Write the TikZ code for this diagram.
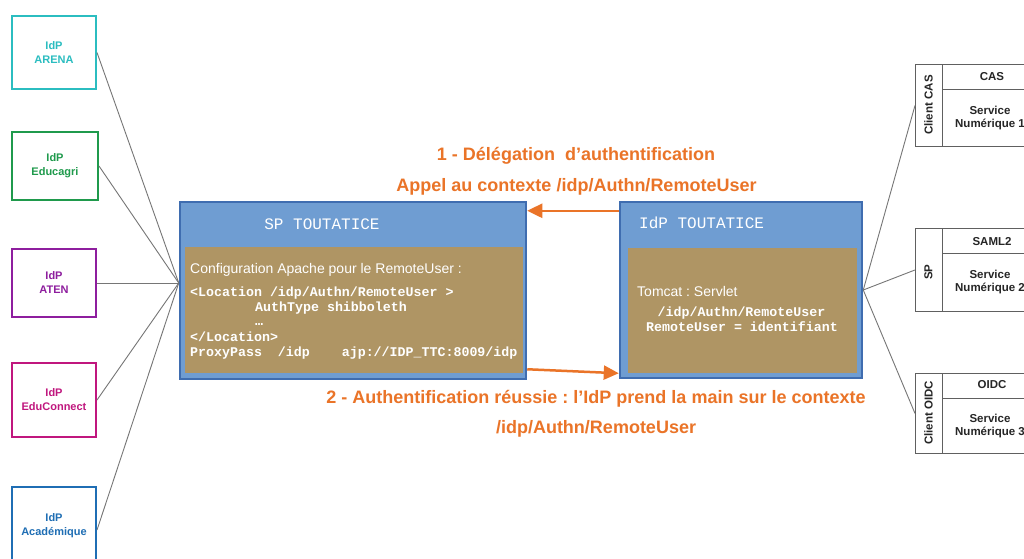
\documentclass[tikz,border=0pt]{standalone}
\usepackage{fontspec}
\setmainfont{Liberation Sans}
\newfontfamily\monof{Liberation Mono}
\usetikzlibrary{arrows.meta,calc}
\definecolor{hdrblue}{HTML}{6F9DD2}
\definecolor{bordblue}{HTML}{3F6DB0}
\definecolor{brownbox}{HTML}{AF9564}
\definecolor{orangeT}{HTML}{EA7428}
\definecolor{cArena}{HTML}{2BBDC0}
\definecolor{cEduc}{HTML}{1F9A4C}
\definecolor{cAten}{HTML}{8E1E9E}
\definecolor{cEduCo}{HTML}{C0177E}
\definecolor{cAcad}{HTML}{1F6EB4}
\definecolor{linegray}{HTML}{767676}
\definecolor{rboxgray}{HTML}{606060}
\frenchspacing
\begin{document}
\begin{tikzpicture}[x=1pt,y=-1pt,
  idpbox/.style={draw=#1, line width=2pt, minimum width=84pt, inner sep=0pt,
    text=#1, font=\fontsize{11}{14}\selectfont\bfseries, align=center},
  gline/.style={draw=linegray, line width=0.9pt},
  outerbox/.style={draw=bordblue, fill=hdrblue, line width=2.5pt, inner sep=0pt},
  innerbox/.style={fill=brownbox, inner sep=0pt},
  titletext/.style={text=white, font=\monof\fontsize{16}{18}\selectfont, inner sep=0pt},
  sanstext/.style={text=white, font=\fontsize{14}{16}\selectfont, inner sep=0pt, anchor=base west},
  codetext/.style={text=white, font=\monof\bfseries\fontsize{13.3}{15}\selectfont, inner sep=0pt, anchor=base west},
  orangetext/.style={text=orangeT, font=\bfseries\fontsize{18}{20}\selectfont, inner sep=0pt, anchor=base},
  arr/.style={draw=orangeT, line width=2.5pt, -{Triangle[length=15pt,width=14pt]}},
  rbox/.style={draw=rboxgray, line width=0.9pt, minimum width=125pt, minimum height=82pt, inner sep=0pt, anchor=north west},
  rtext/.style={font=\bfseries\fontsize{11.5}{13.5}\selectfont, text=black!85, inner sep=0pt, align=center}
]
\fill[white] (0,0) rectangle (1024,558);
\useasboundingbox (0,0) rectangle (1024,558);

% left IdP boxes
\node[idpbox=cArena, minimum height=73pt] (arena) at (54,52.5) {IdP\\ARENA};
\node[idpbox=cEduc, minimum width=86pt, minimum height=68pt] (educ) at (55,166) {IdP\\Educagri};
\node[idpbox=cAten, minimum height=68pt] (aten) at (54,283) {IdP\\ATEN};
\node[idpbox=cEduCo, minimum height=74pt] (educo) at (54,400) {IdP\\EduConnect};
\node[idpbox=cAcad, minimum height=78pt] (acad) at (54,526) {IdP\\Académique};

% SP TOUTATICE
\node[outerbox, minimum width=346pt, minimum height=177pt] (sp) at (353,290.5) {};
\node[innerbox, minimum width=338pt, minimum height=126pt] (spin) at (354,310) {};
\node[titletext] (sptitle) at (322,224) {SP TOUTATICE};
\node[sanstext] (spl1) at (190,273) {Configuration Apache pour le RemoteUser :};
\node[codetext] (spl2) at (190,296.5) {<Location /idp/Authn/RemoteUser >};
\node[codetext] (spl3) at (255,311) {AuthType shibboleth};
\node[codetext] (spl4) at (255,325) {…};
\node[codetext] (spl5) at (190,341) {</Location>};
\node[codetext] (spl6) at (190,356) {ProxyPass\ \ /idp\ \ \ \ ajp://IDP\_TTC:8009/idp};

% IdP TOUTATICE
\node[outerbox, minimum width=242pt, minimum height=176pt] (idp) at (741,290) {};
\node[innerbox, minimum width=229pt, minimum height=125pt] (idpin) at (742.5,310.5) {};
\node[titletext, anchor=west] (idptitle) at (639,223) {IdP TOUTATICE};
\node[sanstext] (idpl1) at (637,296) {Tomcat : Servlet};
\node[codetext, anchor=base] (idpl2) at (741.5,316.5) {/idp/Authn/RemoteUser};
\node[codetext, anchor=base] (idpl3) at (742,331.5) {RemoteUser = identifiant};

% convergence point on SP
\coordinate (conv) at (aten.east -| sp.west);
\draw[gline] (arena.east) -- (conv);
\draw[gline] (educ.east) -- (conv);
\draw[gline] (aten.east) -- (conv);
\draw[gline] (educo.east) -- (conv);
\draw[gline] ([yshift=-4pt]acad.east) -- (conv);

% orange labels and arrows
\node[orangetext] (t1) at (576,160.5) {1 - Délégation\ \ d’authentification};
\node[orangetext] (t2) at (576.5,191) {Appel au contexte /idp/Authn/RemoteUser};
\node[orangetext] (t3) at (596,403) {2 - Authentification réussie : l’IdP prend la main sur le contexte};
\node[orangetext] (t4) at (596,433) {/idp/Authn/RemoteUser};
\draw[arr] ([yshift=-10pt]idp.north west) -- ([yshift=-10pt]sp.north east);
\draw[arr] ([yshift=11pt]sp.south east) -- ([yshift=6pt]idp.south west);

% right boxes
\node[rbox] (cas) at (915,64) {};
\node[rbox, minimum height=83pt] (saml) at (915,228) {};
\node[rbox, minimum height=80pt] (oidc) at (915,373) {};
\foreach \b in {cas,saml,oidc}{
  \draw[draw=rboxgray, line width=0.9pt] ([xshift=27pt]\b.north west) -- ([xshift=27pt]\b.south west);
  \draw[draw=rboxgray, line width=0.9pt] ([xshift=27pt,yshift=-25pt]\b.north west) -- ([yshift=-25pt]\b.north east);
}
\node[rtext] (cash) at (992,77) {CAS};
\node[rtext] (cass) at (990,118) {Service\\Numérique 1};
\node[rtext, rotate=90] (casl) at (928.5,105) {Client CAS};
\node[rtext] (samlh) at (992,242) {SAML2};
\node[rtext] (samls) at (990,282) {Service\\Numérique 2};
\node[rtext, rotate=90] (samll) at (928.5,272) {SP};
\node[rtext] (oidch) at (992,385) {OIDC};
\node[rtext] (oidcs) at (990,426) {Service\\Numérique 3};
\node[rtext, rotate=90] (oidcl) at (928.5,413) {Client OIDC};

\draw[gline] (idp.east) -- (cas.west);
\draw[gline] (idp.east) -- (saml.west);
\draw[gline] (idp.east) -- (oidc.west);
\end{tikzpicture}
\end{document}
